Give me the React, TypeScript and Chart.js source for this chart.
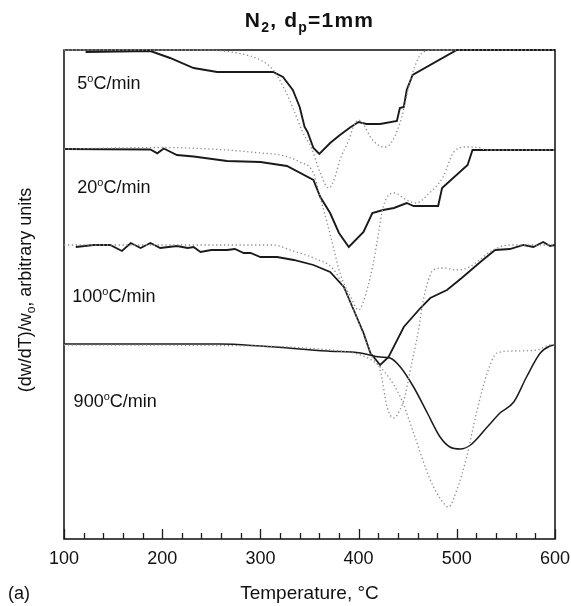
import { useEffect, useRef } from "react";
import { Chart, registerables } from "chart.js";

Chart.register(...registerables);

// ---- data (x = temperature °C, y = arbitrary units, curves offset vertically) ----
const xTickValues = [100, 200, 300, 400, 500, 600];
const rateNames = ["5", "20", "100", "900"];

const solid5: [number, number][] = [
  [122, 488], [188, 489], [208, 482], [232, 472], [256, 468], [300, 468], [313, 468],
  [323, 463], [333, 450], [340, 433], [345, 413], [348, 408], [354, 392], [360, 386],
  [371, 397], [381, 405], [392, 413], [400, 418], [408, 416], [422, 416], [439, 419],
  [442, 432], [446, 433], [449, 450], [455, 465], [500, 490], [600, 490],
];
const model5: [number, number][] = [
  [100, 490], [240, 490], [276, 487], [300, 480], [313, 470], [325, 450], [334, 430],
  [343, 408], [352, 392], [361, 367], [369.5, 352], [376, 363], [381, 380], [390, 400],
  [395, 414], [400, 420], [406, 414], [412, 403], [420, 395], [427, 393], [435, 400],
  [444, 423], [452, 457], [459, 478], [466, 488], [480, 490], [600, 490],
];

const solid20: [number, number][] = [
  [100, 391], [188, 390.5], [195, 386.7], [201.6, 391.5], [215, 385], [232, 383.5],
  [266, 379], [300, 378], [327, 374], [354, 360], [361, 343], [371, 327], [380, 307],
  [390, 293], [405, 308], [414, 327], [425, 330], [436, 332], [449, 337], [456, 334],
  [481, 334], [485, 352], [511, 375], [516, 390], [600, 390],
];
const model20: [number, number][] = [
  [100, 391], [198, 392.5], [266, 390], [300, 387], [320, 385], [340, 378], [354, 367],
  [361, 342], [368, 317], [375, 290], [381, 267], [392, 243], [400, 230], [408.5, 250],
  [415, 277], [420, 305], [425, 333], [436, 347], [449, 340], [459, 337], [470, 345],
  [486, 363], [497, 388], [510, 393], [522, 392.5], [530, 390], [600, 390],
];

const solid100: [number, number][] = [
  [112, 293], [130, 295], [147, 295], [159, 289], [168, 297], [178, 292], [188, 297],
  [198, 292], [215, 294], [226, 292], [232, 293], [239, 288], [250, 290], [266, 290],
  [274, 291], [283, 287], [290, 287], [300, 283], [317, 283], [334, 280], [354, 275],
  [371, 268], [385, 253], [395, 230], [405, 207], [412, 187], [422, 175], [430.5, 183],
  [446, 213], [463, 232], [473, 242], [490, 250], [505, 262], [524, 278], [539, 290],
  [554, 291], [568, 295], [578, 293], [588, 298], [595, 294], [600, 295],
];
const model100: [number, number][] = [
  [100, 295], [200, 295], [270, 295], [313, 295], [333, 289], [354, 282], [375, 270],
  [386, 250], [397, 225], [407, 200], [415, 182], [422, 170], [429, 133], [436, 122],
  [442, 130], [447, 143], [452, 167], [461, 210], [465, 235], [469, 253], [476, 270],
  [486, 272], [500, 270], [513, 273], [523, 280], [537, 290], [554, 295], [600, 295],
];

const solid900: [number, number][] = [
  [100, 196], [259, 196], [300, 194], [368, 189], [402, 187], [422, 183], [432, 182],
  [442.5, 173], [456, 153], [470, 127], [483, 103], [493, 93], [503.5, 91], [514, 95],
  [531, 113], [544, 127], [558, 138], [571, 163], [585, 187], [595, 194], [600, 195],
];
const model900: [number, number][] = [
  [100, 195], [300, 194], [360, 191], [381, 189], [402, 185], [422, 173], [442.5, 143],
  [456, 107], [473, 60], [486.5, 37], [491.5, 33], [500, 50], [510, 83], [520, 127],
  [531, 167], [541, 187], [558, 189], [581.5, 190], [595, 195], [600, 195],
];

// anchor (x, y in data units) of each heating-rate label
const labelAnchors: [number, number][] = [
  [113.5, 451], [113.5, 347], [108.4, 238.5], [109.8, 133.5],
];

const FONT = '"Liberation Sans", Arial, Helvetica, sans-serif';

type Part = { t: string; size: number; dy?: number; bold?: boolean };

function drawParts(
  ctx: CanvasRenderingContext2D,
  parts: Part[],
  x: number,
  y: number,
  align: "left" | "center",
  spacing = 0
) {
  ctx.textAlign = "left";
  ctx.textBaseline = "alphabetic";
  (ctx as any).letterSpacing = `${spacing}px`;
  let total = 0;
  for (const p of parts) {
    ctx.font = `${p.bold ? "bold " : ""}${p.size}px ${FONT}`;
    total += ctx.measureText(p.t).width;
  }
  let cx = align === "center" ? x - total / 2 : x;
  for (const p of parts) {
    ctx.font = `${p.bold ? "bold " : ""}${p.size}px ${FONT}`;
    ctx.fillText(p.t, cx, y + (p.dy || 0));
    cx += ctx.measureText(p.t).width;
  }
  (ctx as any).letterSpacing = "0px";
}

const decorPlugin = {
  id: "decor",
  beforeDatasetsDraw(chart: any) {
    const { ctx, chartArea } = chart;
    const xs = chart.scales.x;
    ctx.save();
    ctx.strokeStyle = "#1c1c1c";
    ctx.lineWidth = 1.6;
    ctx.strokeRect(chartArea.left, chartArea.top, chartArea.right - chartArea.left, chartArea.bottom - chartArea.top);
    ctx.lineWidth = 1.3;
    for (let v = 100; v <= 600; v += 20) {
      const px = Math.round(xs.getPixelForValue(v)) + 0.5;
      const len = v % 100 === 0 ? 10 : 6;
      ctx.beginPath();
      ctx.moveTo(px, chartArea.bottom);
      ctx.lineTo(px, chartArea.bottom - len);
      ctx.stroke();
    }
    ctx.restore();
  },
  afterDraw(chart: any) {
    const { ctx, chartArea } = chart;
    const xs = chart.scales.x;
    const ys = chart.scales.y;
    ctx.save();
    ctx.fillStyle = "#111";
    // title
    drawParts(
      ctx,
      [
        { t: "N", size: 21, bold: true },
        { t: "2", size: 14, bold: true, dy: 5 },
        { t: ", d", size: 21, bold: true },
        { t: "p", size: 14, bold: true, dy: 5 },
        { t: "=1mm", size: 21, bold: true },
      ],
      (chartArea.left + chartArea.right) / 2,
      27,
      "center",
      1.2
    );
    // heating-rate labels
    rateNames.forEach((r, i) => {
      const [tx, ty] = labelAnchors[i];
      drawParts(
        ctx,
        [
          { t: r, size: 18 },
          { t: "o", size: 11, dy: -7 },
          { t: "C/min", size: 18 },
        ],
        xs.getPixelForValue(tx),
        ys.getPixelForValue(ty),
        "left"
      );
    });
    // x title
    drawParts(ctx, [{ t: "Temperature, °C", size: 19 }], (chartArea.left + chartArea.right) / 2, 599, "center");
    drawParts(ctx, [{ t: "(a)", size: 18 }], 8, 599, "left");
    // y title
    ctx.save();
    ctx.translate(31, 290);
    ctx.rotate(-Math.PI / 2);
    drawParts(
      ctx,
      [
        { t: "(dw/dT)/w", size: 18 },
        { t: "o", size: 12, dy: 4 },
        { t: ", arbitrary units", size: 18 },
      ],
      0,
      0,
      "center"
    );
    ctx.restore();
    ctx.restore();
  },
};

const pts = (a: [number, number][]) => a.map(([x, y]) => ({ x, y }));

export default function App() {
  const ref = useRef<HTMLCanvasElement | null>(null);
  useEffect(() => {
    document.body.style.margin = "0";
    const canvas = ref.current!;
    const dotted = (d: [number, number][]) => ({
      data: pts(d),
      borderColor: "#8c8c8c",
      borderWidth: 1.3,
      borderDash: [1.3, 2.6],
      pointRadius: 0,
      cubicInterpolationMode: "monotone" as const,
      clip: 4,
    });
    const solid = (d: [number, number][], w: number, smooth: boolean) => ({
      data: pts(d),
      borderColor: "#1a1a1a",
      borderWidth: w,
      pointRadius: 0,
      tension: 0,
      cubicInterpolationMode: smooth ? ("monotone" as const) : ("default" as const),
      clip: 4,
    });
    const chart = new Chart(canvas, {
      type: "line",
      data: {
        datasets: [
          dotted(model5),
          dotted(model20),
          dotted(model100),
          dotted(model900),
          solid(solid5, 1.9, false),
          solid(solid20, 1.9, false),
          solid(solid100, 1.8, false),
          solid(solid900, 1.5, true),
        ] as any,
      },
      options: {
        animation: false,
        responsive: false,
        events: [],
        layout: { padding: { left: 64, right: 16, top: 50, bottom: 0 } },
        plugins: { legend: { display: false }, tooltip: { enabled: false } },
        scales: {
          x: {
            type: "linear",
            min: 100,
            max: 600,
            afterBuildTicks: (s: any) => {
              s.ticks = xTickValues.map((v) => ({ value: v }));
            },
            afterFit: (s: any) => {
              s.height = 67;
              s.paddingLeft = 0;
              s.paddingRight = 0;
            },
            ticks: { font: { family: FONT, size: 18 }, color: "#111", padding: 9, autoSkip: false, maxRotation: 0 },
            grid: { display: false, drawTicks: false },
            border: { display: false },
          },
          y: { type: "linear", min: 1, max: 490, display: false },
        },
      },
      plugins: [decorPlugin],
    });
    return () => chart.destroy();
  }, []);
  return (
    <div style={{ width: 571, height: 606 }}>
      <canvas ref={ref} width={571} height={606} style={{ display: "block", width: 571, height: 606 }} />
    </div>
  );
}
